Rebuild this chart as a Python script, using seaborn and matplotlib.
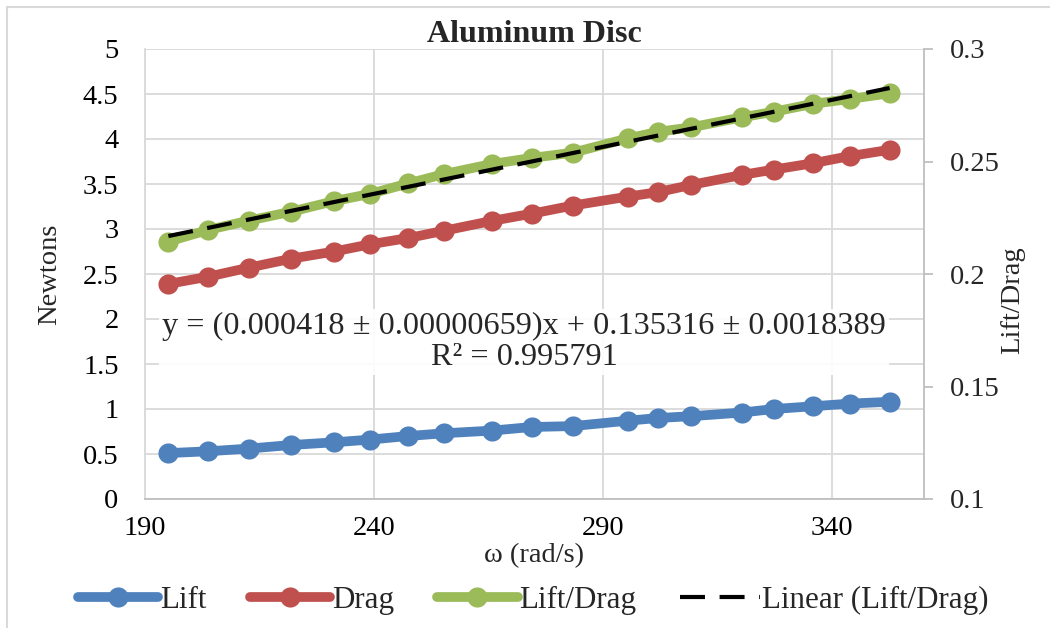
import numpy as np
import seaborn as sns
import matplotlib.pyplot as plt
from matplotlib.patches import Rectangle
from matplotlib.ticker import FuncFormatter

# data
omega = [195.1, 203.8, 212.6, 221.9, 231.3, 239.1, 247.5, 255.2, 265.7, 274.4,
         283.3, 295.4, 302.0, 309.2, 320.2, 327.2, 335.7, 343.8, 352.5]
lift = [0.51, 0.53, 0.56, 0.60, 0.63, 0.66, 0.70, 0.73, 0.76, 0.80,
        0.81, 0.87, 0.90, 0.92, 0.96, 1.00, 1.03, 1.06, 1.08]
drag = [2.39, 2.47, 2.57, 2.67, 2.75, 2.83, 2.90, 2.98, 3.09, 3.17,
        3.26, 3.36, 3.41, 3.49, 3.60, 3.66, 3.73, 3.81, 3.88]
lift_drag = [0.2144, 0.2196, 0.2237, 0.2277, 0.2324, 0.2356, 0.2403, 0.2444, 0.2489, 0.2516,
             0.2539, 0.2603, 0.2632, 0.2652, 0.2696, 0.2721, 0.2756, 0.2778, 0.2803]

# trendline from the equation on the chart
slope = 0.000418
intercept = 0.135316
eq_text = "y = (0.000418 \u00b1 0.00000659)x + 0.135316 \u00b1 0.0018389\nR\u00b2 = 0.995791"

x_ticks = [190, 240, 290, 340]
left_ticks = [0, 0.5, 1, 1.5, 2, 2.5, 3, 3.5, 4, 4.5, 5]
right_ticks = [0.1, 0.15, 0.2, 0.25, 0.3]

BLUE = "#4F81BD"
RED = "#C0504D"
GREEN = "#9BBB59"
GRID = "#D9D9D9"
AXIS = "#BFBFBF"

sns.set_style("white")
plt.rcParams["font.family"] = ["Liberation Serif", "DejaVu Serif"]

fig = plt.figure(figsize=(10.5, 6.28), dpi=100)
W, H = 1050, 628
ax = fig.add_axes([145 / W, 1 - 499 / H, (924 - 145) / W, 450 / H])
ax2 = ax.twinx()

line_kw = dict(linewidth=7, marker="o", markersize=14.5, markeredgewidth=0,
               solid_capstyle="round", legend=False)
sns.lineplot(x=omega, y=lift, ax=ax, color=BLUE, **line_kw)
sns.lineplot(x=omega, y=drag, ax=ax, color=RED, **line_kw)
sns.lineplot(x=omega, y=lift_drag, ax=ax2, color=GREEN, **line_kw)

trend = [slope * w + intercept for w in omega]
ax2.plot([omega[0], omega[-1]], [trend[0], trend[-1]], color="black",
         linewidth=3, dashes=(6, 3.5))

ax.set_xlim(190, 360)
ax.set_ylim(0, 5)
ax2.set_ylim(0.1, 0.3)
ax.set_xticks(x_ticks)
ax.set_yticks(left_ticks)
ax2.set_yticks(right_ticks)
fmt = FuncFormatter(lambda v, p: f"{v:g}")
ax.yaxis.set_major_formatter(fmt)
ax2.yaxis.set_major_formatter(fmt)

ax.grid(True, color=GRID, linewidth=1.3)
ax.set_axisbelow(True)
for s in ["top", "right"]:
    ax.spines[s].set_visible(False)
ax.spines["left"].set_color(GRID)
ax.spines["left"].set_linewidth(1.3)
ax.spines["bottom"].set_color(AXIS)
ax.spines["bottom"].set_linewidth(1.3)
for s in ["top", "left", "bottom"]:
    ax2.spines[s].set_visible(False)
ax2.spines["right"].set_color(AXIS)
ax2.spines["right"].set_linewidth(1.3)

ax.tick_params(axis="both", length=0, labelsize=20.5, colors="black")
ax.tick_params(axis="y", pad=19)
ax.tick_params(axis="x", pad=12)
ax2.tick_params(axis="y", length=6.5, width=1.3, color=AXIS, direction="out",
                labelsize=20.5, pad=12)

ax.set_xlabel("\u03c9 (rad/s)", fontsize=20.5)
ax.xaxis.set_label_coords(0.5, (499 - 543) / 450)
ax.set_ylabel("Newtons", fontsize=20.5)
ax.yaxis.set_label_coords((62 - 145) / 779, 0.5)
ax2.set_ylabel("Lift/Drag", fontsize=20.5)
ax2.yaxis.set_label_coords((1000 - 145) / 779, (499 - 300) / 450)

ax.set_title("Aluminum Disc", fontsize=23, fontweight="bold", pad=4)

ax2.text((524 - 145) / 779, (499 - 342) / 450, eq_text, transform=ax2.transAxes,
         ha="center", va="center", fontsize=23.2, linespacing=1.12,
         bbox=dict(facecolor="white", edgecolor="none", alpha=0.9, pad=2))

handles = [ax.lines[0], ax.lines[1], ax2.lines[0], ax2.lines[1]]
labels = ["Lift", "Drag", "Lift/Drag", "Linear (Lift/Drag)"]
fig.legend(handles, labels, loc="center", bbox_to_anchor=(533 / W, 1 - 600 / H),
           ncol=4, frameon=False, fontsize=22.3, handlelength=2.6,
           handletextpad=0.05, columnspacing=1.4)

fig.patches.append(Rectangle((7 / W, -0.1), 1.2, 1 - 7 / H + 0.1,
                             transform=fig.transFigure, fill=False,
                             edgecolor=GRID, linewidth=1.5))

fig.savefig("out.png", dpi=100)
